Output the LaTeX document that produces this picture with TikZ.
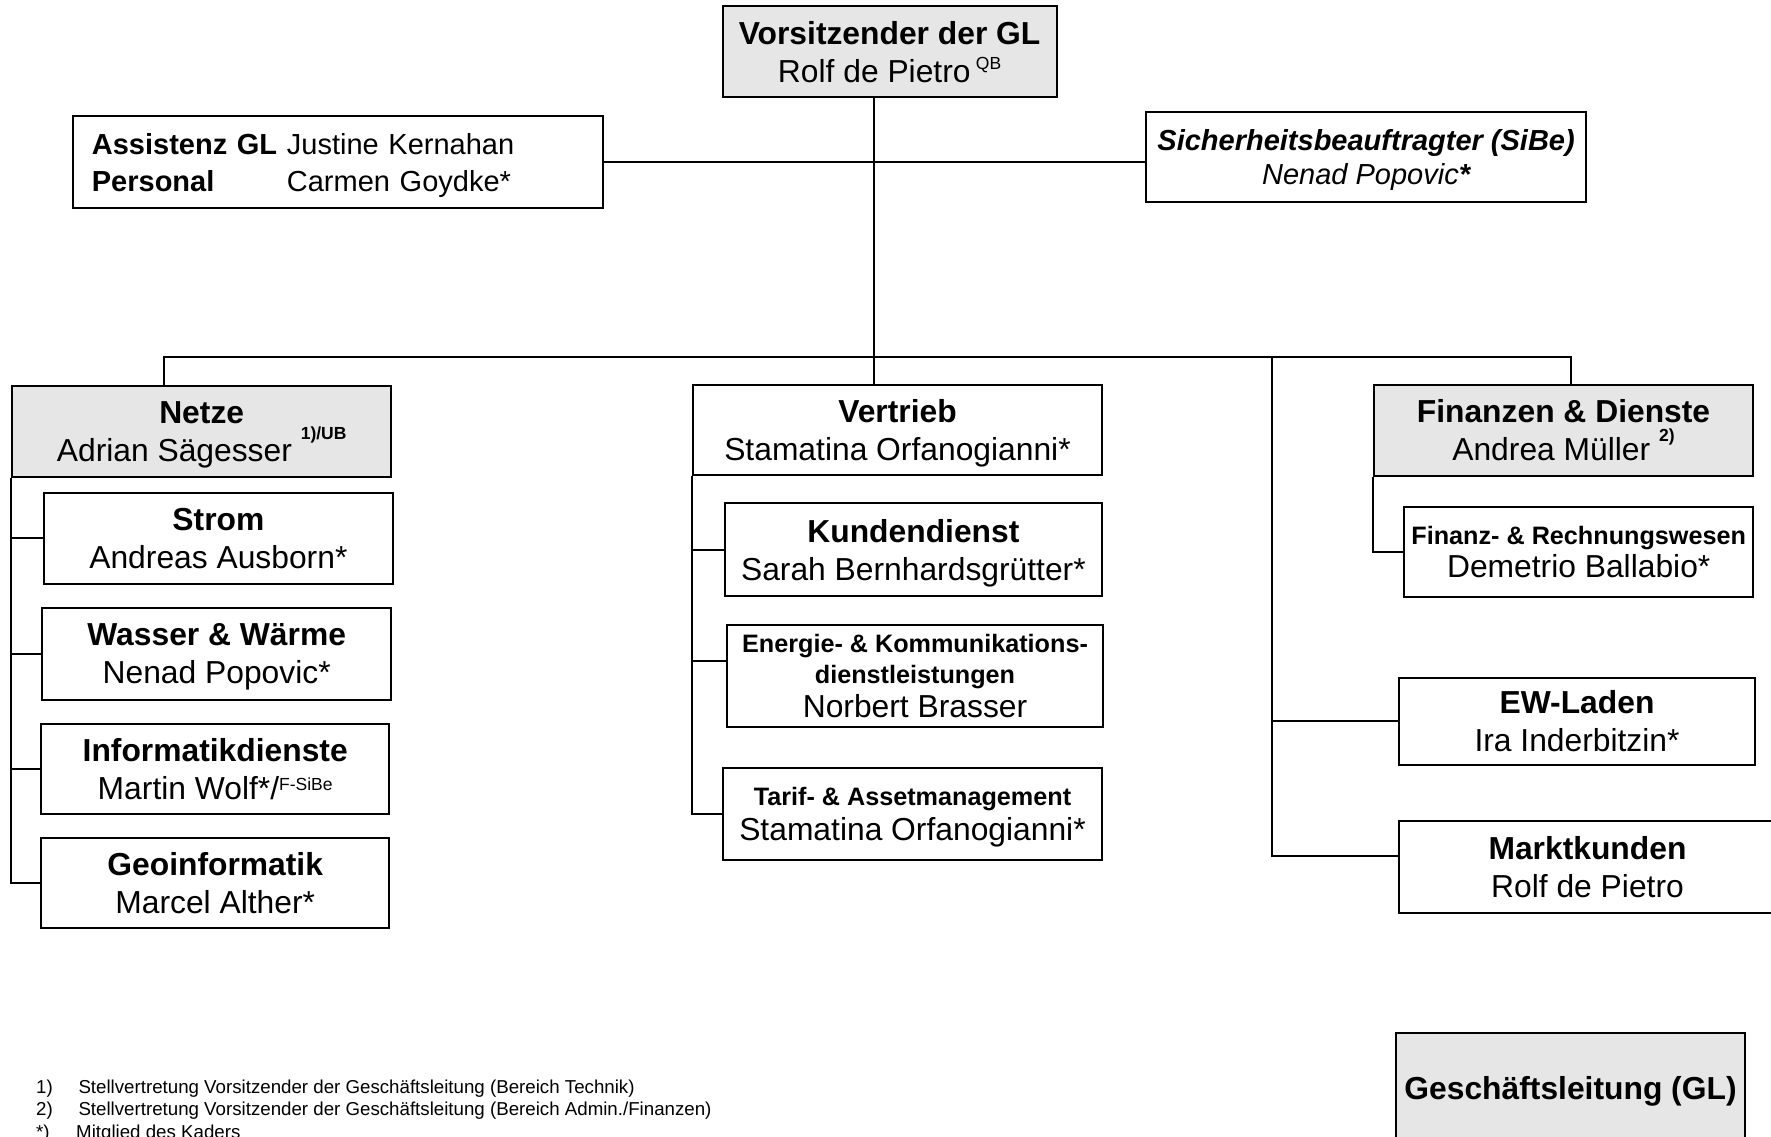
\documentclass[tikz,border=0pt]{standalone}
\usepackage{fontspec}
\setmainfont{Liberation Sans}
\definecolor{kopfgrau}{RGB}{230,230,230}
\newcommand{\hoch}[2][0.4em]{\raisebox{#1}{\fontsize{17.5}{18}\selectfont #2}}

\begin{document}
\begin{tikzpicture}[x=1pt, y=-1pt,
		kasten/.style={draw, line width=2pt, fill=white, inner sep=0pt},
		einheit/.style={kasten, align=center, text depth=0pt,
			font=\fontsize{31.8}{38}\selectfont},
		leitung/.style={einheit, fill=kopfgrau},
		klein/.style={font=\fontsize{25.2}{31.6}\selectfont},
		fussnote/.style={anchor=base west, inner sep=0pt, font=\fontsize{18.7}{22}\selectfont},
		linie/.style={line width=2pt}]
		
		\useasboundingbox (0,0) rectangle (1771,1136);
		\clip (0,0) rectangle (1771,1136);
		
		%
		\node[leitung, minimum width=334pt, minimum height=91pt] (vors) at (889.6,51.9)
			{\textbf{Vorsitzender der GL}\\Rolf de Pietro\,\hoch{QB}};
		\node[kasten, font=\fontsize{29}{37}\selectfont, text width=492pt, inner xsep=19pt,
			minimum height=92.3pt, align=left] (assist) at (337.9,162.2)
			{\noindent\raisebox{-3pt}[\height][\depth]{\begin{tabular}{@{}l@{\hspace{9.7pt}}l@{}}
				\textbf{Assistenz GL} & Justine Kernahan\\
				\textbf{Personal} & Carmen Goydke*
			\end{tabular}}};
		\node[einheit, font=\fontsize{29}{34}\selectfont, minimum width=439.8pt, minimum height=90.6pt] (sibe) at (1366.1,157)
			{\textbf{\itshape Sicherheitsbeauftragter (SiBe)}\\\itshape Nenad Popovic\textbf{*}};
		
		%
		\node[leitung, minimum width=378.7pt, minimum height=91pt] (netze) at (201.7,431.4)
			{\textbf{Netze}\\Adrian Sägesser \hoch[0.7em]{\textbf{1)/UB}}};
		\node[einheit, minimum width=348.7pt, minimum height=90.8pt] (strom) at (218.4,538.1)
			{\textbf{Strom}\\Andreas Ausborn*};
		\node[einheit, minimum width=348.7pt, minimum height=91.6pt] (wasser) at (216.7,653.8)
			{\textbf{Wasser \& Wärme}\\Nenad Popovic*};
		\node[einheit, minimum width=348.3pt, minimum height=90.7pt] (informatik) at (215.2,768.9)
			{\textbf{Informatikdienste}\\Martin Wolf*/\hoch[0.28em]{F-SiBe}};
		\node[einheit, minimum width=348.3pt, minimum height=90.8pt] (geo) at (215.2,883)
			{\textbf{Geoinformatik}\\Marcel Alther*};
		
		%
		\node[einheit, minimum width=408.4pt, minimum height=90pt] (vertrieb) at (897.5,430)
			{\textbf{Vertrieb}\\Stamatina Orfanogianni*};
		\node[einheit, minimum width=376.7pt, minimum height=92.4pt] (kunden) at (913.4,549.5)
			{\textbf{Kundendienst}\\Sarah Bernhardsgrütter*};
		\node[einheit, klein, minimum width=376.6pt, minimum height=101.7pt] (energie) at (915,675.8)
			{\textbf{Energie- \& Kommunikations-}\\\textbf{dienstleistungen}\\[2pt]
			\fontsize{31.8}{38}\selectfont Norbert Brasser};
		\node[einheit, minimum width=378.4pt, minimum height=91.7pt] (tarif) at (912.5,814.2)
			{{\fontsize{25.2}{30}\selectfont\textbf{Tarif- \& Assetmanagement}}\\[-3pt]Stamatina Orfanogianni*};
		
		%
		\node[leitung, minimum width=378.9pt, minimum height=91.1pt] (finanzen) at (1563.5,430.2)
			{\textbf{Finanzen \& Dienste}\\Andrea Müller \hoch[0.6em]{\textbf{2)}}};
		\node[einheit, minimum width=348.5pt, minimum height=90.7pt] (rechnung) at (1578.7,551.9)
			{{\fontsize{25.2}{30}\selectfont\textbf{Finanz- \& Rechnungswesen}}\\[-5pt]Demetrio Ballabio*};
		\node[einheit, minimum width=356.7pt, minimum height=86.2pt] (laden) at (1577,721.4)
			{\textbf{EW-Laden}\\Ira Inderbitzin*};
		\node[einheit, minimum width=377.8pt, minimum height=91.1pt] (markt) at (1587.5,867)
			{\textbf{Marktkunden}\\Rolf de Pietro};
		
		\node[leitung, minimum width=349pt, minimum height=109.8pt] (gl) at (1570.5,1088.2)
			{\textbf{Geschäftsleitung (GL)}};
		
		%
		\coordinate (stamm) at (874.3,250);
		\coordinate (busL) at (164.3,356.5);
		\coordinate (busR) at (1570.5,356.5);
		\coordinate (abzw) at (1272,356.5);
		\coordinate (energieein) at ([yshift=14.8pt]energie.west);
		\coordinate (marktein) at ([yshift=11pt]markt.west);
		
		\draw[linie] (vors.south -| stamm) -- (vertrieb.north -| stamm);
		\draw[linie] (assist.east) -- (assist.east -| sibe.west);
		\draw[linie] (netze.north -| busL) -- (busL) -- (busR) -- (finanzen.north -| busR);
		
		\draw[linie] (netze.south west) |- (geo.west);
		\foreach \k in {strom,wasser,informatik} {
			\draw[linie] (netze.south west |- \k.west) -- (\k.west);
		}
		
		\draw[linie] (vertrieb.south west) |- (tarif.west);
		\draw[linie] (vertrieb.south west |- kunden.west) -- (kunden.west);
		\draw[linie] (vertrieb.south west |- energieein) -- (energieein);
		
		\draw[linie] (finanzen.south west) |- (rechnung.west);
		\draw[linie] (abzw) |- (marktein);
		\draw[linie] (abzw |- laden.west) -- (laden.west);
		
		%
		\node[fussnote] (fn1nr) at (36,1093.3) {1)};
		\node[fussnote] (fn1) at (78.3,1093.3) {Stellvertretung Vorsitzender der Geschäftsleitung (Bereich Technik)};
		\node[fussnote] (fn2nr) at (36,1115.5) {2)};
		\node[fussnote] (fn2) at (78.3,1115.5) {Stellvertretung Vorsitzender der Geschäftsleitung (Bereich Admin./Finanzen)};
		\node[fussnote] (fn3nr) at (36,1138) {*)};
		\node[fussnote] (fn3) at (76,1138) {Mitglied des Kaders};
		
	\end{tikzpicture}
\end{document}
